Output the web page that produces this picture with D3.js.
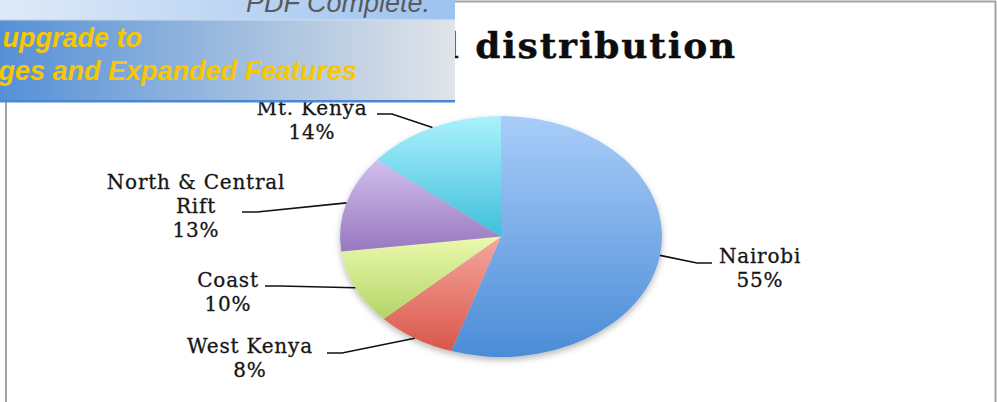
<!DOCTYPE html>
<html>
<head>
<meta charset="utf-8">
<script src="https://cdn.jsdelivr.net/npm/d3@7"></script>
<style>
  body { margin: 0; background: #fff; }
  svg { display: block; }
</style>
</head>
<body>
<svg id="chart"></svg>
<script>
// data
var regions = ["Nairobi", "West Kenya", "Coast", "North & Central Rift", "Mt. Kenya"];
var shares = [55, 8, 10, 13, 14];
var labelLines = [["Nairobi"], ["West Kenya"], ["Coast"], ["North & Central", "Rift"], ["Mt. Kenya"]];

// colours, top -> bottom of each slice
var topColors = ["#a9cdf9", "#f5a89e", "#ebf9ae", "#d1bfec", "#abf1fd"];
var bottomColors = ["#4b8cd7", "#d9564a", "#b3d566", "#9878bf", "#3fbfda"];

// label placement (text centre, first baseline, leader attach point)
var labelPos = [
    {x: 760, y: 263, ax: 712, ay: 263, side: -1},
    {x: 250, y: 353, ax: 327, ay: 353, side: 1},
    {x: 228, y: 287, ax: 265, ay: 286, side: 1},
    {x: 196, y: 189, ax: 242, ay: 212, side: 1},
    {x: 312, y: 115, ax: 377, ay: 114, side: 1}
];

var width = 997;
var height = 402;
var cx = 501, cy = 236.5;
var rx = 161, ry = 120.5;

var svg = d3.select('#chart')
    .attr('width', width)
    .attr('height', height);

var defs = svg.append('defs');

// chart frame
svg.append('rect')
    .attr('x', 6).attr('y', 1.5)
    .attr('width', 989.5).attr('height', 440)
    .attr('fill', '#fff')
    .attr('stroke', '#a3a3a3')
    .attr('stroke-width', 2);

// title (first word hidden under the banner)
svg.append('text')
    .attr('x', 737).attr('y', 58)
    .attr('text-anchor', 'end')
    .style('font-family', '"DejaVu Serif", serif')
    .style('font-weight', 'bold')
    .style('font-size', '36px')
    .style('letter-spacing', '1.8px')
    .attr('fill', '#0d0d0d')
    .attr('stroke', '#0d0d0d')
    .attr('stroke-width', 0.4)
    .text('Regional distribution');

// slice gradients
shares.forEach(function (d, i) {
    var gr = defs.append('linearGradient')
        .attr('id', 'grad' + i)
        .attr('x1', 0).attr('y1', 0).attr('x2', 0).attr('y2', 1);
    gr.append('stop').attr('offset', '0%').attr('stop-color', topColors[i]);
    gr.append('stop').attr('offset', '100%').attr('stop-color', bottomColors[i]);
});

var shadow = defs.append('filter').attr('id', 'shadow')
    .attr('x', '-10%').attr('y', '-10%').attr('width', '120%').attr('height', '125%');
shadow.append('feDropShadow')
    .attr('dx', 0).attr('dy', 3).attr('stdDeviation', 3)
    .attr('flood-color', '#000').attr('flood-opacity', 0.28);

var pie = d3.pie().sort(null).value(function (d) { return d; });
var arcs = pie(shares);

var arc = d3.arc().innerRadius(0).outerRadius(rx);

// the pie is drawn as a circle squashed vertically
var pieG = svg.append('g')
    .attr('filter', 'url(#shadow)');

pieG.selectAll('path')
    .data(arcs)
    .enter().append('path')
    .attr('transform', 'translate(' + cx + ',' + cy + ') scale(1,' + (ry / rx) + ')')
    .attr('d', arc)
    .attr('fill', function (d, i) { return 'url(#grad' + i + ')'; });

// leader lines and labels
function edgePoint(d) {
    var a = (d.startAngle + d.endAngle) / 2;
    return [cx + rx * Math.sin(a), cy - ry * Math.cos(a)];
}

var lab = svg.append('g');

arcs.forEach(function (d, i) {
    var p = labelPos[i];
    var e = edgePoint(d);
    var elbow = [p.ax + p.side * 15, p.ay];
    lab.append('path')
        .attr('d', d3.line()([[p.ax, p.ay], elbow, e]))
        .attr('fill', 'none')
        .attr('stroke', '#111')
        .attr('stroke-width', 1.6);

    var lines = labelLines[i].concat([shares[i] + '%']);
    var t = lab.append('text')
        .attr('text-anchor', 'middle')
        .style('font-family', '"DejaVu Serif", serif')
        .style('font-size', '20px')
        .style('letter-spacing', '0.8px')
        .attr('fill', '#161616')
        .attr('stroke', '#161616')
        .attr('stroke-width', 0.3);
    lines.forEach(function (s, k) {
        t.append('tspan')
            .attr('x', p.x)
            .attr('y', p.y + k * 24)
            .text(s);
    });
});

//
// PDF Complete banner overlay
//
var bgTop = defs.append('linearGradient').attr('id', 'bannerTop');
bgTop.append('stop').attr('offset', '0%').attr('stop-color', '#dfeaf8');
bgTop.append('stop').attr('offset', '100%').attr('stop-color', '#9dc2ee');
var bgLow = defs.append('linearGradient').attr('id', 'bannerLow');
bgLow.append('stop').attr('offset', '0%').attr('stop-color', '#5590d7');
bgLow.append('stop').attr('offset', '55%').attr('stop-color', '#a3bfdf');
bgLow.append('stop').attr('offset', '100%').attr('stop-color', '#e1e4e9');

var banner = svg.append('g');
banner.append('rect')
    .attr('x', 0).attr('y', 0).attr('width', 455).attr('height', 20)
    .attr('fill', 'url(#bannerTop)');
banner.append('rect')
    .attr('x', 0).attr('y', 20).attr('width', 455).attr('height', 81)
    .attr('fill', 'url(#bannerLow)');
banner.append('rect')
    .attr('x', 0).attr('y', 19).attr('width', 455).attr('height', 1.5)
    .attr('fill', '#c9d9ec');
banner.append('rect')
    .attr('x', 0).attr('y', 100).attr('width', 455).attr('height', 2.5)
    .attr('fill', '#4a87d4');

banner.append('text')
    .attr('x', 430).attr('y', 12)
    .attr('text-anchor', 'end')
    .style('font-family', '"Liberation Sans", Arial, sans-serif')
    .style('font-style', 'italic')
    .style('font-size', '27px')
    .attr('fill', '#5a5a5a')
    .text('PDF Complete.');

var yellow = banner.append('text')
    .attr('text-anchor', 'end')
    .style('font-family', '"Liberation Sans", Arial, sans-serif')
    .style('font-style', 'italic')
    .style('font-weight', 'bold')
    .style('font-size', '27px')
    .attr('fill', '#f7c700');
yellow.append('tspan').attr('x', 142).attr('y', 47).text('Click Here to upgrade to');
yellow.append('tspan').attr('x', 357).attr('y', 80).text('Unlimited Pages and Expanded Features');
</script>
</body>
</html>
